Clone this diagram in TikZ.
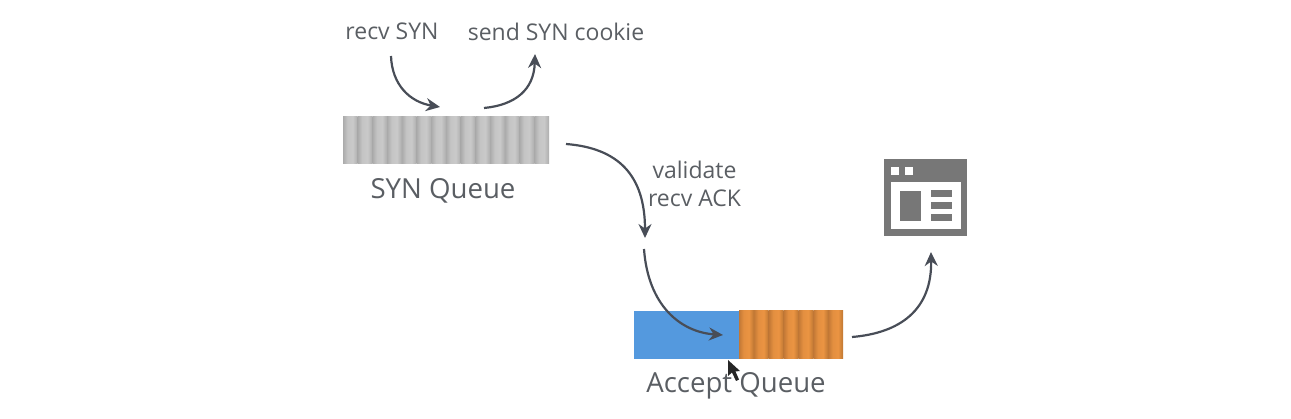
\documentclass[tikz,border=0pt]{standalone}
\usepackage{fontspec}
\setmainfont{Open Sans}
\usetikzlibrary{arrows.meta,calc}
\definecolor{inkc}{HTML}{5A5E63}
\definecolor{arrowc}{HTML}{484D57}
\definecolor{iconc}{HTML}{777777}
\definecolor{bluec}{HTML}{5499DE}
\pgfdeclarehorizontalshading{graybar}{100bp}{
  color(0bp)=(black!33); color(25bp)=(black!33); color(40bp)=(black!23);
  color(58bp)=(black!21); color(75bp)=(black!32); color(100bp)=(black!32)}
\pgfdeclarehorizontalshading{orangebar}{100bp}{
  rgb(0bp)=(0.76,0.47,0.21); rgb(25bp)=(0.76,0.47,0.21); rgb(40bp)=(0.89,0.56,0.25);
  rgb(58bp)=(0.92,0.58,0.26); rgb(75bp)=(0.75,0.47,0.20); rgb(100bp)=(0.75,0.47,0.20)}
\tikzset{
  smalllabel/.style={font=\fontsize{23}{28}\selectfont,text=inkc,align=center,inner sep=0pt},
  biglabel/.style={font=\fontsize{27.6}{32}\selectfont,text=inkc,inner sep=0pt},
  flow/.style={draw=arrowc,line width=2.2pt,-{Stealth[length=14pt,width=13pt]}},
  graycell/.style={shading=graybar,draw=none},
  orangecell/.style={shading=orangebar,draw=none},
  iconfill/.style={fill=iconc,draw=none},
  iconwhite/.style={fill=white,draw=none},
}
\begin{document}
\begin{tikzpicture}[x=1pt,y=-1pt]
\useasboundingbox (0,0) rectangle (1291,419);
% SYN queue
\node[anchor=north west,minimum width=206pt,minimum height=47pt,inner sep=0pt] (synq) at (343,117) {};
\foreach \i in {0,...,13}{
  \shade[graycell] ({343+\i*14.714},117) rectangle ({343+(\i+1)*14.714},164);
}
% Accept queue
\node[anchor=north west,minimum width=105pt,minimum height=48pt,inner sep=0pt,fill=bluec] (acc) at (634,311) {};
\node[anchor=north west,minimum width=104pt,minimum height=48pt,inner sep=0pt] (ord) at (739,311) {};
\foreach \i in {0,...,6}{
  \shade[orangecell] ({739+\i*14.857},311) rectangle ({739+(\i+1)*14.857},359);
}
% labels
\node[smalllabel] (recv) at (392,31) {recv SYN};
\node[smalllabel] (send) at (556,32) {send SYN cookie};
\node[biglabel] (synl) at (443,191) {SYN Queue};
\node[smalllabel] (valid) at (694.5,184) {validate\\recv ACK};
\node[biglabel] (accl) at (736,386) {Accept Queue};
% app icon
\node[anchor=north west,minimum width=83pt,minimum height=77pt,inner sep=0pt,iconfill] (app) at (884,159) {};
\fill[iconwhite] (891,182) rectangle (961,229);
\fill[iconwhite] (891,167) rectangle (899,175);
\fill[iconwhite] (905,167) rectangle (913,175);
\fill[iconfill] (900,191) rectangle (921,221);
\fill[iconfill] (931,190) rectangle (952,197);
\fill[iconfill] (931,202) rectangle (952,209);
\fill[iconfill] (931,214) rectangle (952,221);
% free connector ends
\coordinate (a1) at (391,56);
\coordinate (a2) at (440,107);
\coordinate (b1) at (484,108);
\coordinate (b2) at (535,54);
\coordinate (c1) at (566,144);
\coordinate (c2) at (645,238);
\coordinate (d1) at (644,249);
\coordinate (d2) at (723,335);
\coordinate (e1) at (852,337);
\coordinate (e2) at (931,252);
\draw[flow] (a1) .. controls (392,85) and (410,102) .. (a2);
\draw[flow] (b1) .. controls (515,105) and (534,90) .. (b2);
\draw[flow] (c1) .. controls (618,148) and (645,175) .. (c2);
\draw[flow] (d1) .. controls (648,305) and (680,332) .. (d2);
\draw[flow] (e1) .. controls (900,333) and (932,310) .. (e2);
% cursor
\fill[black!85] (728,360) -- (728,376) -- (732,372.5) -- (736,381) -- (739,379.5) -- (735.5,371.5) -- (740,371) -- cycle;
\end{tikzpicture}
\end{document}
